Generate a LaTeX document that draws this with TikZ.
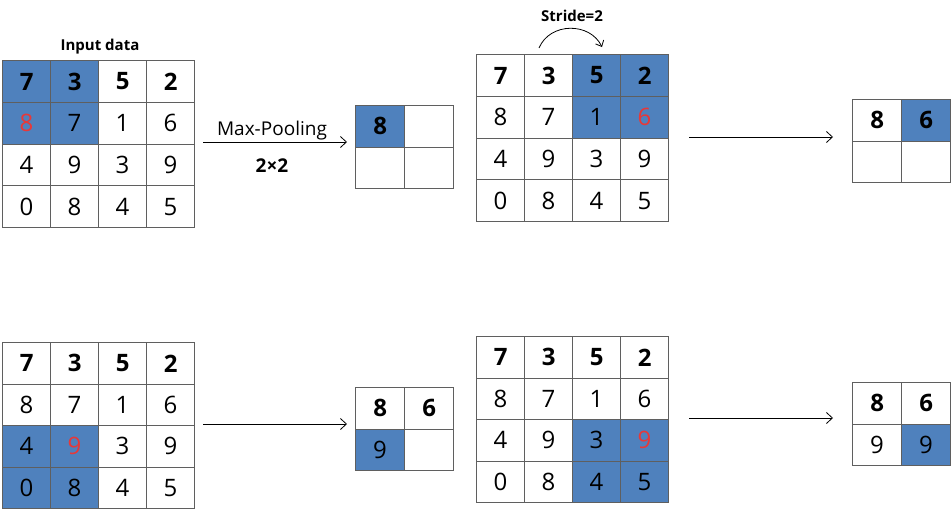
\documentclass[tikz,border=0pt]{standalone}
\usepackage{fontspec}
\setmainfont{Open Sans}
\usetikzlibrary{arrows.meta}
\definecolor{cellblue}{RGB}{79,129,189}
\definecolor{gridgray}{RGB}{95,95,95}
\definecolor{maxred}{RGB}{232,56,56}
\tikzset{
  cell/.style={draw=gridgray, line width=1.2pt, inner sep=0pt, anchor=north west,
    minimum width=48pt, minimum height=41.7pt, font=\fontsize{24}{24}\selectfont},
  ocell/.style={cell, minimum width=49pt, minimum height=41.5pt},
  hl/.style={fill=cellblue},
  bnum/.style={font=\fontsize{24}{24}\selectfont\bfseries},
  row0/.style={bnum},
  maxv/.style={text=maxred},
  flow/.style={-{Straight Barb[length=6pt,width=11pt]}, line width=0.8pt},
  lbl/.style={anchor=base, inner sep=0pt},
  % highlights
  g1-0-0/.style={hl}, g1-0-1/.style={hl}, g1-1-0/.style={hl,maxv}, g1-1-1/.style={hl},
  g2-0-2/.style={hl}, g2-0-3/.style={hl}, g2-1-2/.style={hl}, g2-1-3/.style={hl,maxv},
  g3-2-0/.style={hl}, g3-2-1/.style={hl,maxv}, g3-3-0/.style={hl}, g3-3-1/.style={hl},
  g4-2-2/.style={hl}, g4-2-3/.style={hl,maxv}, g4-3-2/.style={hl}, g4-3-3/.style={hl},
}
\newcommand\biggrid[4]{% #1 name, #2 x, #3 y, #4 row height
  \foreach \t [count=\k from 0] in {7,3,5,2,8,7,1,6,4,9,3,9,0,8,4,5}{
    \pgfmathtruncatemacro\r{\k/4}
    \pgfmathtruncatemacro\c{mod(\k,4)}
    \node[cell, minimum height=#4pt, row\r/.try, #1-\r-\c/.try] (#1-\r-\c) at ({#2+48*\c},{#3+#4*\r}) {\t};
  }}
\begin{document}
\begin{tikzpicture}[x=1pt,y=-1pt]
\fill[white] (0,0) rectangle (951,509);
\useasboundingbox (0,0) rectangle (951,509);

% big grids
\biggrid{g1}{2}{60}{41.75}
\biggrid{g2}{476}{54}{41.75}
\biggrid{g3}{2}{342}{41.5}
\biggrid{g4}{476}{336}{41.5}

% output 1
\node[ocell, hl, bnum] (o1-0-0) at (355,105) {8};
\node[ocell] (o1-0-1) at (404,105) {};
\node[ocell] (o1-1-0) at (355,146.5) {};
\node[ocell] (o1-1-1) at (404,146.5) {};

% output 2
\node[ocell, bnum] (o2-0-0) at (852,99) {8};
\node[ocell, hl, bnum] (o2-0-1) at (901,99) {6};
\node[ocell] (o2-1-0) at (852,140.5) {};
\node[ocell] (o2-1-1) at (901,140.5) {};

% output 3
\node[ocell, bnum] (o3-0-0) at (355,387) {8};
\node[ocell, bnum] (o3-0-1) at (404,387) {6};
\node[ocell, hl] (o3-1-0) at (355,428.5) {9};
\node[ocell] (o3-1-1) at (404,428.5) {};

% output 4
\node[ocell, bnum] (o4-0-0) at (852,382) {8};
\node[ocell, bnum] (o4-0-1) at (901,382) {6};
\node[ocell] (o4-1-0) at (852,423.5) {9};
\node[ocell, hl] (o4-1-1) at (901,423.5) {9};

% labels
\node[lbl, font=\fontsize{15}{15}\selectfont\bfseries] (inlbl) at (100,50) {Input data};
\node[lbl, font=\fontsize{19}{19}\selectfont] (mplbl) at (272,135) {Max-Pooling};
\node[lbl, font=\fontsize{19}{19}\selectfont\bfseries] (szlbl) at (272,172.5) {2×2};
\node[lbl, font=\fontsize{15}{15}\selectfont\bfseries] (stlbl) at (572,21) {Stride=2};

% arrows
\coordinate (a1s) at (203,142); \coordinate (a1e) at (347,142);
\coordinate (a2s) at (689,137); \coordinate (a2e) at (833,137);
\coordinate (a3s) at (203,424); \coordinate (a3e) at (347,424);
\coordinate (a4s) at (689,418); \coordinate (a4e) at (833,418);
\draw[flow] (a1s) -- (a1e);
\draw[flow] (a2s) -- (a2e);
\draw[flow] (a3s) -- (a3e);
\draw[flow] (a4s) -- (a4e);

% stride arc
\coordinate (sts) at (539,48);
\coordinate (ste) at (602,47);
\coordinate (stc1) at (550,22);
\coordinate (stc2) at (590,22);
\draw[-{Straight Barb[length=5pt,width=9pt]}, line width=0.8pt] (sts) .. controls (stc1) and (stc2) .. (ste);
\end{tikzpicture}
\end{document}
